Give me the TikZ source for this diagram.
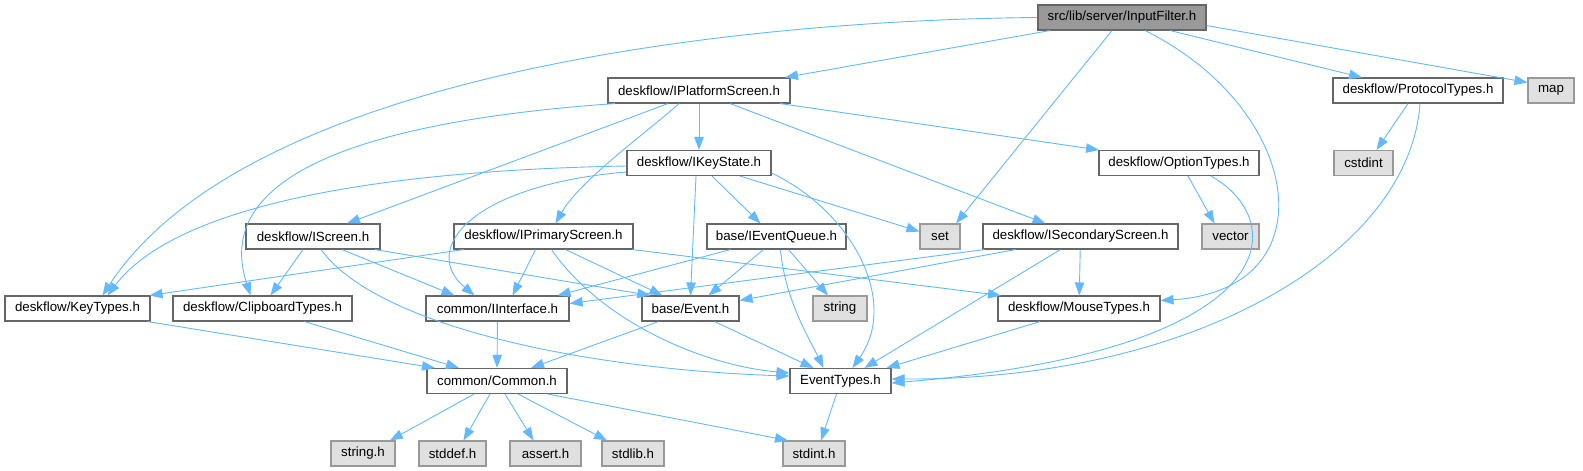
\documentclass[tikz,border=0pt]{standalone}
\usepackage{fontspec}
\setmainfont{Liberation Sans}
\usetikzlibrary{arrows.meta}
\definecolor{edgec}{HTML}{63B8FF}
\definecolor{bord}{HTML}{666666}
\definecolor{gbord}{HTML}{999999}
\definecolor{gfill}{HTML}{E0E0E0}
\definecolor{rfill}{HTML}{999999}
\begin{document}
\begin{tikzpicture}[x=1pt,y=-1pt,
  nd/.style={draw=bord, fill=white, line width=1.1pt, minimum height=25pt, inner sep=0pt, font=\fontsize{13.3}{16}\selectfont, text=black},
  sys/.style={nd, draw=gbord, fill=gfill},
  root/.style={nd, fill=rfill},
  e/.style={draw=edgec, line width=0.9pt, -{Triangle[length=13pt,width=9.5pt]}},
]
\useasboundingbox (0,0) rectangle (1583,471);
% nodes
\node[root, minimum width=168pt] (if) at (1122,17.5) {src/lib/server/InputFilter.h};
\node[nd, minimum width=182pt] (ips) at (699,90.5) {deskflow/IPlatformScreen.h};
\node[nd, minimum width=170pt] (pt) at (1418,90.5) {deskflow/ProtocolTypes.h};
\node[sys, minimum width=46pt] (map) at (1551,90.5) {map};
\node[nd, minimum width=144pt] (iks) at (699,163) {deskflow/IKeyState.h};
\node[nd, minimum width=160pt] (ot) at (1179,163) {deskflow/OptionTypes.h};
\node[sys, minimum width=59pt] (cst) at (1363.5,163) {cstdint};
\node[nd, minimum width=134pt] (is) at (313,236.5) {deskflow/IScreen.h};
\node[nd, minimum width=179pt] (ipr) at (543.5,236.5) {deskflow/IPrimaryScreen.h};
\node[nd, minimum width=139pt] (ieq) at (776.5,236.5) {base/IEventQueue.h};
\node[sys, minimum width=40pt] (set) at (940,236.5) {set};
\node[nd, minimum width=195pt] (iss) at (1080.5,236.5) {deskflow/ISecondaryScreen.h};
\node[sys, minimum width=57pt] (vec) at (1230.5,236.5) {vector};
\node[nd, minimum width=145pt] (kt) at (77.5,308.5) {deskflow/KeyTypes.h};
\node[nd, minimum width=179pt] (ct) at (262.5,308.5) {deskflow/ClipboardTypes.h};
\node[nd, minimum width=143pt] (ii) at (497.5,308.5) {common/IInterface.h};
\node[nd, minimum width=97pt] (ev) at (690.5,308.5) {base/Event.h};
\node[sys, minimum width=54pt] (str) at (840,308.5) {string};
\node[nd, minimum width=162pt] (mt) at (1079,308.5) {deskflow/MouseTypes.h};
\node[nd, minimum width=140pt] (com) at (497,381) {common/Common.h};
\node[nd, minimum width=101pt] (et) at (840.5,381) {EventTypes.h};
\node[sys, minimum width=64pt] (sh) at (363,453.5) {string.h};
\node[sys, minimum width=67pt] (sd) at (452.5,453.5) {stddef.h};
\node[sys, minimum width=71pt] (as) at (545.5,453.5) {assert.h};
\node[sys, minimum width=62pt] (sl) at (633,453.5) {stdlib.h};
\node[sys, minimum width=62pt] (si) at (814,453.5) {stdint.h};
% edges from InputFilter
\draw[e] ([xshift=-72pt]if.south) -- ([xshift=86pt]ips.north);
\draw[e] (if.west) .. controls (750,20) and (250,70) .. ([xshift=25pt]kt.north);
\draw[e] ([xshift=-10pt]if.south) -- ([xshift=16pt]set.north);
\draw[e] ([xshift=23pt]if.south) .. controls (1305,110) and (1330,290) .. ([yshift=8pt]mt.east);
\draw[e] ([xshift=48pt]if.south) -- ([xshift=-56pt]pt.north);
\draw[e] ([yshift=-8pt]if.east) -- ([yshift=8pt]map.west);
% IPlatformScreen
\draw[e] (ips) -- (iks);
\draw[e] ([xshift=-84pt]ips.south) .. controls (380,120) and (210,170) .. ([xshift=-12pt]ct.north);
\draw[e] ([xshift=-31pt]ips.south) -- ([xshift=34pt]is.north);
\draw[e] ([xshift=-20pt]ips.south) .. controls (650,130) and (580,180) .. ([xshift=12pt]ipr.north);
\draw[e] ([xshift=81pt]ips.south) -- ([xshift=-80pt]ot.north);
\draw[e] ([xshift=31pt]ips.south) -- ([xshift=-35pt]iss.north);
% ProtocolTypes
\draw[e] ([xshift=-10pt]pt.south) -- ([xshift=13pt]cst.north);
\draw[e] ([xshift=2pt]pt.south) .. controls (1410,250) and (1200,380) .. ([yshift=2pt]et.east);
% OptionTypes
\draw[e] ([xshift=9pt]ot.south) -- ([xshift=-16pt]vec.north);
\draw[e] ([xshift=32pt]ot.south) .. controls (1290,220) and (1290,350) .. ([yshift=-2pt]et.east);
% IKeyState
\draw[e] ([yshift=-3pt]iks.west) .. controls (400,170) and (180,200) .. ([xshift=30pt]kt.north);
\draw[e] ([yshift=-9pt]iks.west) .. controls (470,185) and (420,250) .. ([xshift=-23pt]ii.north);
\draw[e] ([xshift=-3pt]iks.south) -- (ev.north);
\draw[e] ([xshift=13pt]iks.south) -- ([xshift=-16pt]ieq.north);
\draw[e] ([xshift=41pt]iks.south) -- ([yshift=5pt]set.west);
\draw[e] ([yshift=-10pt]iks.east) .. controls (850,210) and (900,300) .. ([xshift=12pt]et.north);
% IScreen
\draw[e] ([xshift=-10pt]is.south) -- ([xshift=8pt]ct.north);
\draw[e] ([xshift=29pt]is.south) -- ([xshift=-43pt]ii.north);
\draw[e] ([xshift=62pt]is.south) -- ([xshift=-40pt]ev.north);
\draw[e] ([xshift=8pt]is.south) .. controls (380,330) and (600,370) .. ([yshift=5pt]et.west);
% IPrimaryScreen
\draw[e] ([xshift=-80pt]ipr.south) -- ([xshift=72pt]kt.north);
\draw[e] ([xshift=-8pt]ipr.south) -- ([xshift=15pt]ii.north);
\draw[e] ([xshift=22pt]ipr.south) -- ([xshift=-28pt]ev.north);
\draw[e] ([xshift=8pt]ipr.south) .. controls (600,320) and (700,365) .. ([yshift=8pt]et.west);
\draw[e] ([xshift=89pt]ipr.south) -- ([xshift=-78pt]mt.north);
% IEventQueue
\draw[e] ([xshift=-46pt]ieq.south) -- ([xshift=60pt]ii.north);
\draw[e] ([xshift=-13pt]ieq.south) -- ([xshift=18pt]ev.north);
\draw[e] ([xshift=12pt]ieq.south) -- ([xshift=-12pt]str.north);
\draw[e] ([xshift=4pt]ieq.south) .. controls (785,300) and (810,340) .. ([xshift=-17pt]et.north);
% ISecondaryScreen
\draw[e] ([xshift=-96pt]iss.south) -- ([yshift=5pt]ii.east);
\draw[e] ([xshift=-65pt]iss.south) -- ([yshift=8pt]ev.east);
\draw[e] ([xshift=-20pt]iss.south) -- ([xshift=24pt]et.north);
\draw[e] (iss) -- (mt);
% lower
\draw[e] ([xshift=70pt]kt.south) -- ([xshift=-62pt]com.north);
\draw[e] ([xshift=42pt]ct.south) -- ([xshift=-38pt]com.north);
\draw[e] (ii) -- (com);
\draw[e] ([xshift=-32pt]ev.south) -- ([xshift=34pt]com.north);
\draw[e] ([xshift=24pt]ev.south) -- ([xshift=-27pt]et.north);
\draw[e] ([xshift=-39pt]mt.south) -- ([xshift=46pt]et.north);
\draw[e] ([xshift=-23pt]com.south) -- ([xshift=27pt]sh.north);
\draw[e] ([xshift=-7pt]com.south) -- ([xshift=11pt]sd.north);
\draw[e] ([xshift=8pt]com.south) -- ([xshift=-12pt]as.north);
\draw[e] ([xshift=21pt]com.south) -- ([xshift=-26pt]sl.north);
\draw[e] ([xshift=51pt]com.south) -- ([xshift=-26pt]si.north);
\draw[e] ([xshift=-4pt]et.south) -- ([xshift=7pt]si.north);
\end{tikzpicture}
\end{document}
